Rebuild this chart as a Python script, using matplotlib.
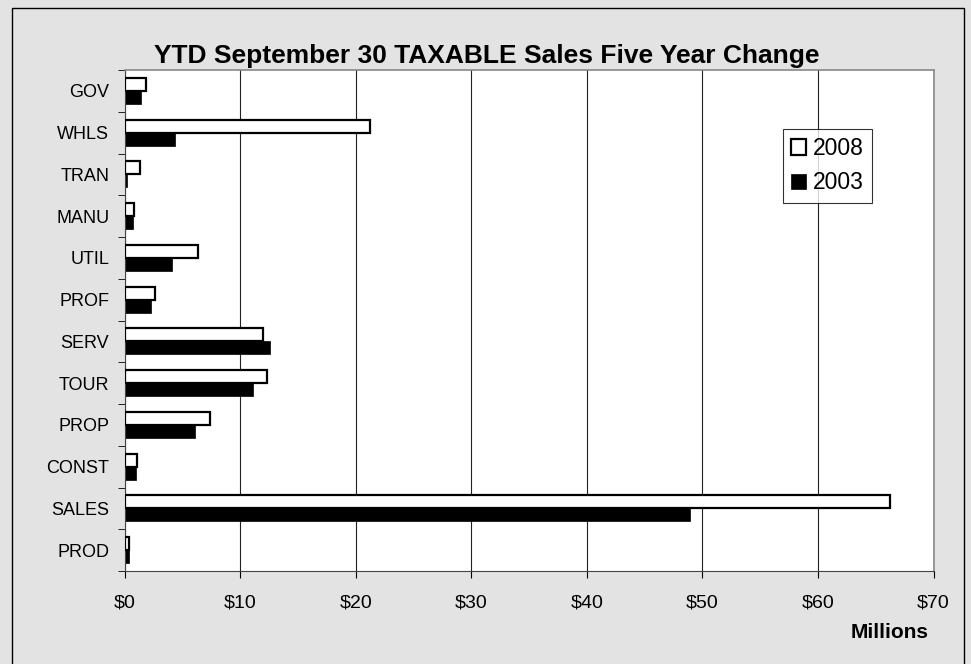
import numpy as np
import matplotlib.pyplot as plt
from matplotlib.patches import Rectangle

plt.rcParams['font.family'] = ['Liberation Sans', 'DejaVu Sans']

categories = ['GOV', 'WHLS', 'TRAN', 'MANU', 'UTIL', 'PROF', 'SERV', 'TOUR',
              'PROP', 'CONST', 'SALES', 'PROD']
sales_2008 = [1.9, 21.2, 1.35, 0.85, 6.4, 2.6, 12.0, 12.3, 7.4, 1.05, 66.2, 0.35]
sales_2003 = [1.45, 4.4, 0.25, 0.75, 4.15, 2.3, 12.6, 11.1, 6.1, 1.0, 48.9, 0.4]
xticks = np.arange(0, 71, 10)
xlabels = ['$%d' % v for v in xticks]

W, H = 971, 664
fig = plt.figure(figsize=(W/100, H/100), dpi=100, facecolor='#e3e3e3')
fig.patches.append(Rectangle((12/W, -0.01), (964 - 12)/W, 1 - 8/H + 0.01,
                             transform=fig.transFigure, fill=False,
                             edgecolor='black', linewidth=1.0))
ax = fig.add_axes([124.5/W, 1 - 571/H, (933.5 - 124.5)/W, 501/H])

n = len(categories)
y = np.arange(n)
h = 0.31
ax.barh(y - h/2, sales_2008, height=h, color='white', edgecolor='black',
        linewidth=1.6, label='2008', zorder=3)
ax.barh(y + h/2, sales_2003, height=h, color='black', edgecolor='black',
        linewidth=0.5, label='2003', zorder=2)

ax.set_ylim(n - 0.5, -0.5)
ax.set_xlim(0, 70)
ax.set_yticks(y)
ax.set_yticklabels(categories, fontsize=13)
ax.set_yticks(np.arange(n + 1) - 0.5, minor=True)
ax.tick_params(axis='y', which='major', length=0, pad=11)
ax.tick_params(axis='y', which='minor', length=5, direction='out')
ax.set_xticks(xticks)
ax.set_xticklabels(xlabels, fontsize=14)
ax.tick_params(axis='x', length=5, direction='out', pad=12)
ax.grid(axis='x', color='#222222', linewidth=0.8, zorder=0)
ax.set_axisbelow(True)
for side in ['top', 'right']:
    ax.spines[side].set_color('#888888')
    ax.spines[side].set_linewidth(1.2)
for side in ['left', 'bottom']:
    ax.spines[side].set_color('#444444')

fig.text(487/W, 1 - 63/H, 'YTD September 30 TAXABLE Sales Five Year Change',
         ha='center', va='baseline', fontsize=19, fontweight='bold')
fig.text(890/W, 1 - 633/H, 'Millions', ha='center', va='center',
         fontsize=15, fontweight='bold')

leg = fig.legend(loc='upper left', bbox_to_anchor=(783/W, 1 - 129/H),
                 bbox_transform=fig.transFigure,
                 fontsize=16.5, frameon=True, fancybox=False, edgecolor='black',
                 handlelength=0.65, handleheight=0.65, handletextpad=0.3,
                 borderpad=0.35, labelspacing=0.5, borderaxespad=0)
leg.get_frame().set_linewidth(0.8)

fig.savefig('out.png', dpi=100, facecolor=fig.get_facecolor())
